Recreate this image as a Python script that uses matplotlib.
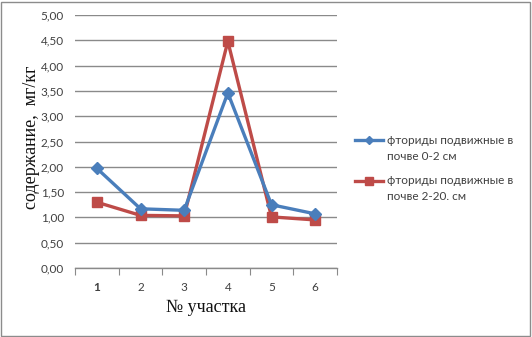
import matplotlib
matplotlib.use("Agg")
import matplotlib.pyplot as plt
from matplotlib.lines import Line2D
from matplotlib.patches import Rectangle

# Data
sites = [1, 2, 3, 4, 5, 6]
site_labels = ["1", "2", "3", "4", "5", "6"]
fluoride_0_2 = [1.97, 1.17, 1.14, 3.46, 1.25, 1.07]
fluoride_2_20 = [1.30, 1.04, 1.03, 4.48, 1.01, 0.95]
series_names = [("фториды подвижные в", "почве 0-2 см"), ("фториды подвижные в", "почве 2-20. см")]
y_ticks = [0.0, 0.5, 1.0, 1.5, 2.0, 2.5, 3.0, 3.5, 4.0, 4.5, 5.0]

W, H = 532, 337
fig = plt.figure(figsize=(W / 100, H / 100), dpi=100)
fig.patch.set_facecolor("white")

# outer chart border
fig.add_artist(Rectangle((1 / W, 1 / H), (W - 3) / W, (H - 3) / H, transform=fig.transFigure,
                         fill=False, edgecolor="#8c8c8c", linewidth=1.0))

left, right, top, bottom = 75, 337, 15, 268
ax = fig.add_axes([left / W, (H - bottom) / H, (right - left) / W, (bottom - top) / H])

blue = "#4a7ebb"
red = "#be4b48"
styles = [dict(color=blue, marker="D"), dict(color=red, marker="s")]

ax.plot(sites, fluoride_0_2, linewidth=2.4, markersize=6, zorder=4, **styles[0])
ax.plot(sites, fluoride_2_20, linewidth=2.4, markersize=7.5, zorder=3, **styles[1])

ax.set_xlim(0.5, 6.5)
ax.set_ylim(0, 5.0)
ax.set_yticks(y_ticks)
ax.set_yticklabels([f"{v:.2f}".replace(".", ",") for v in y_ticks],
                   fontsize=8.5, color="#404040", family="Lato")
ax.yaxis.grid(True, color="#8a8a8a", linewidth=1.0)
ax.set_axisbelow(True)
ax.tick_params(axis="y", length=0, pad=8)

# category boundary tick marks, labels at centres
ax.set_xticks([x + 0.5 for x in range(0, 7)])
ax.set_xticklabels([])
ax.tick_params(axis="x", which="major", length=5, color="#8a8a8a", direction="out")
ax.set_xticks(sites, minor=True)
ax.set_xticklabels(site_labels, minor=True, fontsize=8.5, color="#404040", family="Lato")
ax.tick_params(axis="x", which="minor", length=0, pad=10)
ax.get_xticklabels(minor=True)[0].set_fontweight("bold")

for s in ["top", "right", "left"]:
    ax.spines[s].set_visible(False)
ax.spines["bottom"].set_color("#8a8a8a")
ax.spines["bottom"].set_linewidth(1.0)

fig.text(32 / W, 1 - 137 / H, "содержание,  мг/кг", rotation=90, ha="center", va="center",
         fontsize=13, family="Liberation Serif", color="#111111")
fig.text(206 / W, 1 - 307 / H, "№ участка", ha="center", va="center",
         fontsize=13, family="Liberation Serif", color="#111111")

# legend: key line aligned with the first text line of each entry
legend_rows = [140, 181]
legend_msize = [4.5, 6]
for (line1, line2), y, st, ms in zip(series_names, legend_rows, styles, legend_msize):
    yf = 1 - y / H
    fig.add_artist(Line2D([355 / W, 383 / W], [yf, yf], transform=fig.transFigure,
                          linewidth=2.4, color=st["color"]))
    fig.add_artist(Line2D([369 / W], [yf], transform=fig.transFigure, linestyle="none",
                          marker=st["marker"], markersize=ms, color=st["color"]))
    fig.text(387 / W, yf, line1, ha="left", va="center", fontsize=8.5,
             family="Lato", color="#404040")
    fig.text(387 / W, 1 - (y + 16) / H, line2, ha="left", va="center", fontsize=8.5,
             family="Lato", color="#404040")

fig.savefig("out.png", dpi=100)
